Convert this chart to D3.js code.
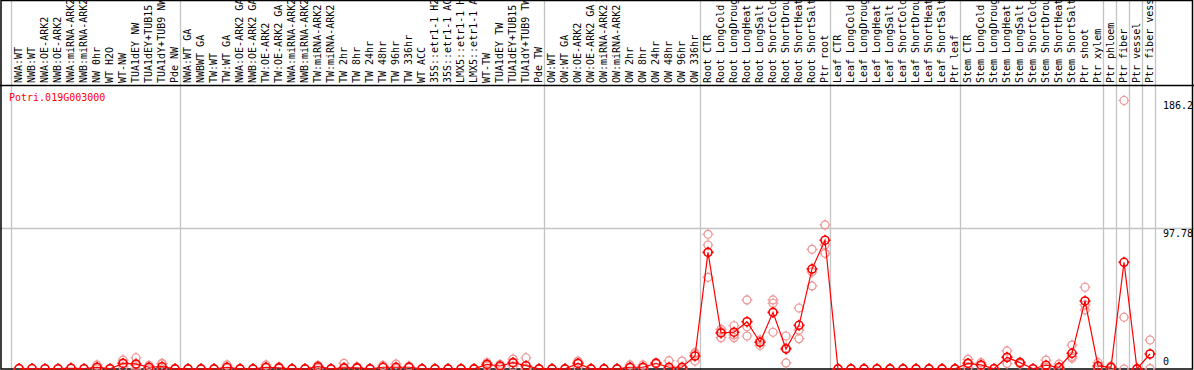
<!DOCTYPE html>
<html>
<head>
<meta charset="utf-8">
<script src="https://cdn.jsdelivr.net/npm/d3@7"></script>
<style>
  body { margin: 0; background: #fff; }
  text { font-family: "DejaVu Sans Mono", monospace; font-size: 10px; }
</style>
</head>
<body>
<div id="efp"></div>
<script>
let geneName = "Potri.019G003000"

let samples = [
    "NWA:WT", "NWB:WT", "NWA:OE-ARK2", "NWB:OE-ARK2", "NWA:miRNA-ARK2", "NWB:miRNA-ARK2",
    "NW 0hr", "WT H2O", "WT-NW", "TUA1dEY NW", "TUA1dEY+TUB15 NW", "TUA1dY+TUB9 NW", "Pde NW",
    "NWA:WT GA", "NWBWT GA", "TW:WT", "TW:WT GA", "NWA:OE-ARK2 GA", "NWB:OE-ARK2 GA",
    "TW:OE-ARK2", "TW:OE-ARK2 GA", "NWA:miRNA-ARK2", "NWB:miRNA-ARK2", "TW:miRNA-ARK2", "TW:miRNA-ARK2",
    "TW 2hr", "TW 8hr", "TW 24hr", "TW 48hr", "TW 96hr", "TW 336hr", "WT ACC",
    "35S::etr1-1 H2O", "35S::etr1-1 ACC", "LMX5::etr1-1 H2O", "LMX5::etr1-1 ACC",
    "WT-TW", "TUA1dEY TW", "TUA1dEY+TUB15 TW", "TUA1dY+TUB9 TW", "Pde TW",
    "OW:WT", "OW:WT GA", "OW:OE-ARK2", "OW:OE-ARK2 GA", "OW:miRNA-ARK2", "OW:miRNA-ARK2",
    "OW 2hr", "OW 8hr", "OW 24hr", "OW 48hr", "OW 96hr", "OW 336hr",
    "Root CTR", "Root LongCold", "Root LongDrought", "Root LongHeat", "Root LongSalt",
    "Root ShortCold", "Root ShortDrought", "Root ShortHeat", "Root ShortSalt", "Ptr root",
    "Leaf CTR", "Leaf LongCold", "Leaf LongDrought", "Leaf LongHeat", "Leaf LongSalt",
    "Leaf ShortCold", "Leaf ShortDrought", "Leaf ShortHeat", "Leaf ShortSalt", "Ptr leaf",
    "Stem CTR", "Stem LongCold", "Stem LongDrought", "Stem LongHeat", "Stem LongSalt",
    "Stem ShortCold", "Stem ShortDrought", "Stem ShortHeat", "Stem ShortSalt", "Ptr shoot",
    "Ptr xylem", "Ptr phloem", "Ptr fiber", "Ptr vessel", "Ptr fiber vessel"
]

// index of the first sample of each group (plus the end)
let groupStarts = [0, 13, 41, 53, 63, 73, 84, 85, 86, 87, 88]

// mean expression per sample
let means = [
    0.3, 0.3, 0.2, 0.2, 0.5, 0.2, 1.2, 0.2, 3.9, 3.5, 1.2, 1.6, 0.1,
    0.1, 0.1, 0.1, 1.2, 0.1, 0.1, 1.2, 0.8, 0.1, 0.1, 1.6, 0.1, 0.8, 0.8, 0.1, 1.2, 1.2,
    1.2, 0.1, 0.1, 0.1, 0.1, 0.1, 3.2, 2.1, 4.4, 2.3, 0.1,
    0.1, 0.1, 3.9, 0.1, 0.1, 0.1, 1.2, 1.2, 3.9, 1.2, 1.2, 9.0,
    80.9, 25.0, 25.5, 32.8, 18.5, 39.3, 13.9, 30.3, 69.3, 89.3,
    0.1, 0.1, 0.1, 0.1, 0.1, 0.1, 0.1, 0.1, 0.1, 0.1,
    3.9, 2.8, 0.2, 8.1, 4.4, 0.2, 2.6, 1.2, 10.9, 47.2, 2.1,
    1.2, 74.0, 0.1, 10.4
]

// replicate values per sample
let reps = [
    [0.3, 0.2], [0.3], [0.2], [0.2], [0.5, 0.8], [0.2], [2.8, 1.0, 0], [0.2], [6.2, 4.0, 1.5],
    [7.8, 2.5, 0.2], [2.5, 1.0, 0.1], [3.9, 3.6, 0.1], [0.1],
    [0.1], [0.1], [0.1], [2.8, 0.5], [0.1], [0.1], [2.8, 0.6], [1.5, 0.5], [0.1], [0.1],
    [2.5, 1.6, 0.5], [0.1], [3.9, 0.2], [1.5, 0.5], [0.1], [2.5, 1.0], [3.4, 0.3],
    [2.0, 1.0], [0.1], [0.1], [0.1], [0.1], [0.1], [4.5, 3.0, 2.0], [3.2, 2.0, 1.0],
    [6.9, 4.4, 2.0], [7.8, 0.2, 0.1], [0.1],
    [0.1], [0.1], [5.5, 3.9, 1.2], [0.1], [0.1], [0.1], [2.8, 0.6], [2.8, 0.6],
    [4.5, 3.9], [5.8, 0.1], [5.5, 0.1], [10.4, 11.3, 5.5],
    [93.4, 86.0, 63.6], [27.5, 21.7, 25.8], [30.0, 21.7, 23.6], [47.9, 29.3, 22.9],
    [16.4, 20.1, 18.7], [47.9, 45.6, 25.5], [22.9, 4.2, 14.6], [42.3, 27.0, 21.0],
    [83.0, 57.6, 67.3], [99.9, 80.2, 86.0],
    [0.1], [0.1], [0.1], [0.1], [0.1], [0.1], [0.1], [0.1], [0.1], [0.1],
    [6.7, 3.9, 1.0], [4.4, 2.0], [0.2], [12.5, 3.9, 8.0], [3.5, 4.8], [0.2], [6.2, 1.0],
    [3.4, 0.3], [16.6, 8.7, 7.5], [56.7, 40.9, 44.4], [4.4, 1.0],
    [2.0, 0.8], [186.2, 35.9, 0], [0.1], [20.1, 0.3]
]

let gridValues = [97.78]
let axisLabels = ["186.2", "97.78", "0"]
let axisValues = [186.2, 97.78, 0]

var W = 1194, H = 370
var plotLeft = 11, colW = 13
var labelBottom = 85, baseY = 369

var svg = d3.select("#efp")
    .append("svg")
    .attr("width", W)
    .attr("height", H)

var x = d3.scaleBand()
    .domain(d3.range(samples.length))
    .range([plotLeft, plotLeft + colW * samples.length])

// y scale: 0 at the baseline, the grid value 97.78 at y=228
var y = d3.scaleLinear()
    .domain([0, gridValues[0]])
    .range([baseY, 228])

// group separators
svg.selectAll(".sep")
    .data(groupStarts)
    .enter()
    .append("line")
    .attr("x1", (d) => x(0) + d * x.bandwidth() + 0.5)
    .attr("x2", (d) => x(0) + d * x.bandwidth() + 0.5)
    .attr("y1", 0)
    .attr("y2", H)
    .attr("stroke", "#c4c4c4")
    .attr("stroke-width", 1.3)

// horizontal grid
svg.selectAll(".grid")
    .data(gridValues)
    .enter()
    .append("line")
    .attr("x1", 0)
    .attr("x2", W)
    .attr("y1", (d) => Math.round(y(d)) + 0.5)
    .attr("y2", (d) => Math.round(y(d)) + 0.5)
    .attr("stroke", "#c4c4c4")
    .attr("stroke-width", 1.3)

// frame
svg.append("rect")
    .attr("x", 1)
    .attr("y", 0.5)
    .attr("width", W - 2.5)
    .attr("height", baseY - 0.5)
    .attr("fill", "none")
    .attr("stroke", "#000")
    .attr("stroke-width", 1.5)

svg.append("line")
    .attr("x1", 0).attr("x2", W)
    .attr("y1", labelBottom + 0.5).attr("y2", labelBottom + 0.5)
    .attr("stroke", "#000")
    .attr("stroke-width", 1.5)

// sample labels, rotated
svg.selectAll(".lab")
    .data(samples)
    .enter()
    .append("text")
    .attr("transform", (d, i) => "translate(" + (x(i) + 7) + "," + (labelBottom - 2) + ") rotate(-90)")
    .attr("dy", "0.35em")
    .attr("fill", "#000")
    .text((d) => d)

// gene name
svg.append("text")
    .attr("x", 9)
    .attr("y", 101)
    .attr("fill", "#f00")
    .text(geneName)

// value labels on the right
svg.selectAll(".val")
    .data(axisValues)
    .enter()
    .append("text")
    .attr("x", 1163)
    .attr("y", (d) => d == 0 ? y(d) - 4 : y(d) + 9)
    .attr("fill", "#000")
    .text((d, i) => axisLabels[i])

var px = (i) => x(i) + 8

// ring with small ticks, like the old bitmap markers
function marker(g, r) {
    g.append("circle")
        .attr("r", r)
        .attr("fill", "none")
    g.append("path")
        .attr("d", "M0," + (-r - 1.5) + "V" + (-r + 0.5) + "M0," + (r - 0.5) + "V" + (r + 1.5) +
            "M" + (-r - 1.5) + ",0H" + (-r + 0.5) + "M" + (r - 0.5) + ",0H" + (r + 1.5))
}

// replicates
var repPts = []
reps.forEach((arr, i) => arr.forEach((v) => repPts.push({ i: i, v: v })))

svg.selectAll(".rep")
    .data(repPts)
    .enter()
    .append("g")
    .attr("class", "rep")
    .attr("transform", (d) => "translate(" + px(d.i) + "," + y(d.v) + ")")
    .attr("stroke", "#ee9898")
    .attr("stroke-width", 1.2)
    .each(function () { marker(d3.select(this), 4) })

// mean line
var line = d3.line()
    .x((d, i) => px(i))
    .y((d) => y(d))

svg.append("path")
    .datum(means)
    .attr("d", line)
    .attr("fill", "none")
    .attr("stroke", "#f00")
    .attr("stroke-width", 1.2)

svg.selectAll(".mean")
    .data(means)
    .enter()
    .append("g")
    .attr("class", "mean")
    .attr("transform", (d, i) => "translate(" + px(i) + "," + y(d) + ")")
    .attr("stroke", "#f00")
    .attr("stroke-width", 1.6)
    .each(function () { marker(d3.select(this), 4) })
</script>
</body>
</html>
